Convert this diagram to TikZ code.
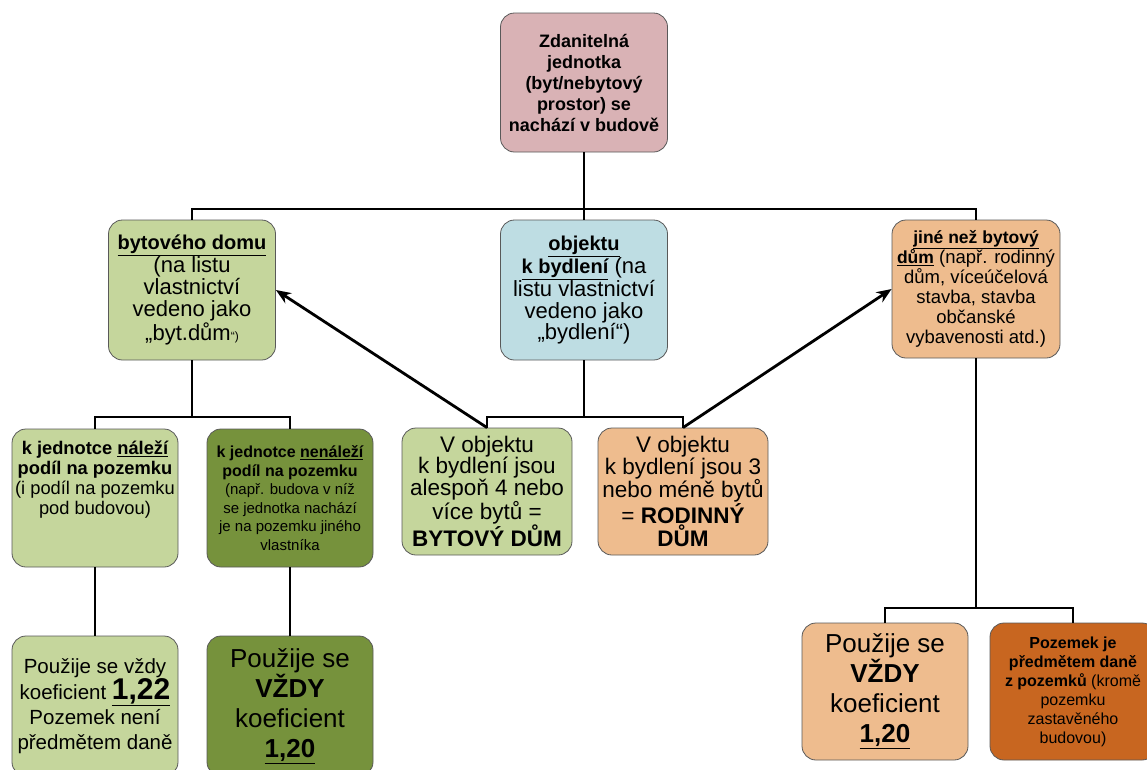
\documentclass[tikz,border=0pt]{standalone}
\usepackage{fontspec}
\setmainfont{Liberation Sans}
\usetikzlibrary{arrows.meta, positioning}
\usepackage{xcolor}
\definecolor{rootpink}{RGB}{217,178,181}
\definecolor{lightgreen}{RGB}{197,214,156}
\definecolor{darkolive}{RGB}{118,146,60}
\definecolor{lightblue}{RGB}{190,221,227}
\definecolor{peach}{RGB}{238,188,142}
\definecolor{rust}{RGB}{200,102,32}
\newcommand{\hd}[1]{{\fontsize{20}{22}\selectfont\bfseries\underline{#1}}}

\begin{document}
\begin{tikzpicture}[x=1pt, y=-1pt, >={Stealth[length=15pt, width=12pt]},
  box/.style={rectangle, rounded corners=14pt, draw=black!65, line width=0.8pt, fill=#1, align=center, inner sep=1pt, minimum width=167pt},
  box/.default=lightgreen,
  link/.style={line width=2.8pt}]
  \clip (0,0) rectangle (1147,769);
  \node[box=rootpink, minimum height=139pt, font=\fontsize{18}{21}\selectfont\bfseries] (root) at (584,82.5) {Zdanitelná\\jednotka\\(byt/nebytový\\prostor) se\\nachází v budově};
  \node[box=lightgreen, minimum height=140pt, font=\fontsize{22}{22}\selectfont] (bytDum) at (192,290) {\hd{bytového domu}\\(na listu\\vlastnictví\\vedeno jako\\„byt.dům{\fontsize{12}{12}\selectfont“)}};
  \node[box=lightblue, minimum height=140pt, font=\fontsize{22}{21.5}\selectfont] (objekt) at (584,290) {\hd{objektu}\\\hd{k bydlení} (na\\listu vlastnictví\\vedeno jako\\„bydlení“)};
  \node[box=peach, minimum width=168pt, minimum height=138pt, font=\fontsize{18.5}{20}\selectfont] (jine) at (976,289) {{\fontsize{17.5}{20}\selectfont\bfseries\underline{jiné než bytový}}\\{\fontsize{17.5}{20}\selectfont\bfseries\underline{dům}} (např. rodinný\\dům, víceúčelová\\stavba, stavba\\občanské\\vybavenosti atd.)};
  \node[box=lightgreen, minimum width=166pt, minimum height=138pt, font=\fontsize{18.3}{20}\selectfont] (nalezi) at (95,498) {\textbf{k jednotce \underline{náleží}}\\\textbf{podíl na pozemku}\\(i podíl na pozemku\\pod budovou)\\\mbox{}\\\mbox{}};
  \node[box=darkolive, minimum width=166pt, minimum height=138pt, font=\fontsize{16}{18.5}\selectfont] (nenalezi) at (290,498) {\textbf{k jednotce \underline{nenáleží}}\\\textbf{podíl na pozemku}\\{\fontsize{15}{18}\selectfont (např. budova v níž}\\{\fontsize{15}{18}\selectfont se jednotka nachází}\\{\fontsize{15}{18}\selectfont je na pozemku jiného}\\{\fontsize{15}{18}\selectfont vlastníka}};
  \node[box=lightgreen, minimum width=170pt, minimum height=127pt, font=\fontsize{22.5}{21.5}\selectfont] (bytovy) at (487,491.5) {V objektu\\k bydlení jsou\\alespoň 4 nebo\\více bytů =\\\textbf{BYTOVÝ DŮM}};
  \node[box=peach, minimum width=170pt, minimum height=127pt, font=\fontsize{22.5}{21.5}\selectfont] (rodinny) at (683,491.5) {V objektu\\k bydlení jsou 3\\nebo méně bytů\\= \textbf{RODINNÝ}\\\textbf{DŮM}};
  \node[box=lightgreen, minimum width=166pt, minimum height=140pt, font=\fontsize{20.5}{25}\selectfont] (koefA) at (95,706) {Použije se vždy\\koeficient {\fontsize{30}{30}\selectfont\bfseries\underline{1,22}}\\Pozemek není\\předmětem daně};
  \node[box=darkolive, minimum width=166pt, minimum height=140pt, font=\fontsize{26}{30}\selectfont] (koefB) at (290,706) {Použije se\\\textbf{VŽDY}\\koeficient\\\textbf{\underline{1,20}}};
  \node[box=peach, minimum width=166pt, minimum height=137pt, font=\fontsize{26}{30}\selectfont] (koefC) at (885,691.5) {Použije se\\\textbf{VŽDY}\\koeficient\\\textbf{\underline{1,20}}};
  \node[box=rust, minimum width=166pt, minimum height=137pt, font=\fontsize{16}{19}\selectfont] (pozemek) at (1073,691.5) {\textbf{Pozemek je}\\\textbf{předmětem daně}\\\textbf{z pozemků} (kromě\\pozemku\\zastavěného\\budovou)};
  \coordinate (j1) at (584,209);
  \coordinate (j2) at (584,417);
  \coordinate (j3) at (192,417);
  \coordinate (j4) at (976,608);
  \draw[link] (root) -- (j1);
  \draw[link] (bytDum.north) |- (j1) -| (jine.north);
  \draw[link] (j1) -- (objekt.north);
  \draw[link] (bytDum.south) -- (j3);
  \draw[link] (nalezi.north) |- (j3) -| (nenalezi.north);
  \draw[link] (nalezi) -- (koefA);
  \draw[link] (nenalezi) -- (koefB);
  \draw[link] (objekt.south) -- (j2);
  \draw[link] (bytovy.north) |- (j2) -| (rodinny.north);
  \draw[link, ->] (bytovy.north) -- (bytDum.east);
  \draw[link, ->] (rodinny.north) -- (jine.west);
  \draw[link] (jine.south) -- (j4);
  \draw[link] (koefC.north) |- (j4) -| (pozemek.north);
\end{tikzpicture}
\end{document}
